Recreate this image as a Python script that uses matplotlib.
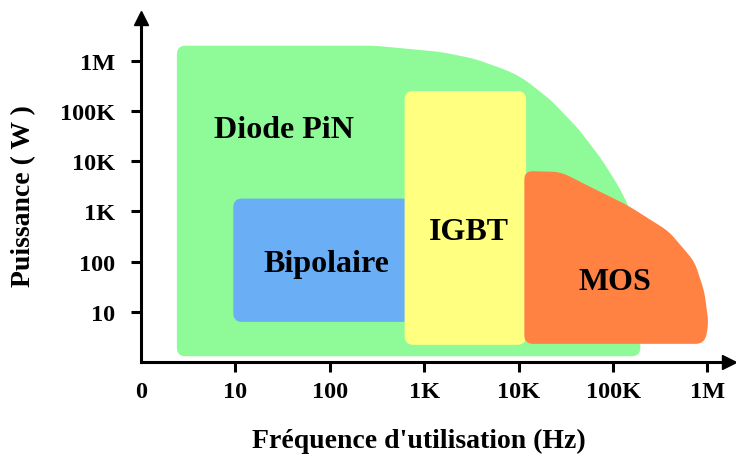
import matplotlib
matplotlib.use('Agg')
import matplotlib.pyplot as plt
from matplotlib.ticker import NullLocator
import numpy as np

# axis ticks
freq_ticks = [1, 10, 100, 1e3, 1e4, 1e5, 1e6]
freq_labels = ['0', '10', '100', '1K', '10K', '100K', '1M']
power_ticks = [10, 100, 1e3, 1e4, 1e5, 1e6]
power_labels = ['10', '100', '1K', '10K', '100K', '1M']

# outline of each domain, frequency (Hz) / power (W)
pin_freq = [2.4, 2.4, 300, 1500, 3400, 7800, 11500, 22300, 43000, 75500,
            114000, 146000, 177000, 195000, 195000, 195000]
pin_power = [1.3, 2e6, 2e6, 1.5e6, 1.1e6, 6.3e5, 4.3e5, 1.6e5, 4.4e4, 1.1e4,
             3200, 1300, 280, 45, 4.5, 1.3]

bip_freq = [9.5, 9.5, 730, 730]
bip_power = [6.3, 1800, 1800, 6.3]

igbt_freq = [620, 620, 12000, 12000]
igbt_power = [2.2, 2.5e5, 2.5e5, 2.2]

mos_freq = [11500, 11500, 28000, 55000, 145000, 390000, 730000, 930000, 1.03e6, 9.3e5]
mos_power = [2.3, 6400, 6100, 3200, 1300, 400, 100, 25, 5.7, 2.3]

region_names = ['Diode PiN', 'Bipolaire', 'IGBT', 'MOS']
region_colors = ['#8ffa98', '#6aaef6', '#ffff80', '#ff8242']
label_freq = [33, 92, 3000, 1.06e5]
label_power = [4.3e4, 90, 400, 40]


def rounded(ax, xs, ys, r=9, n=10):
    # round the corners of an outline, working in pixels
    pts = ax.transData.transform(np.column_stack([xs, ys]))
    t = np.linspace(0, 1, n)[:, None]
    out = []
    for i in range(len(pts)):
        v = pts[i]
        a = pts[i - 1]
        b = pts[(i + 1) % len(pts)]
        da, db = a - v, b - v
        la, lb = np.hypot(*da), np.hypot(*db)
        p1 = v + da / la * min(r, la / 2)
        p2 = v + db / lb * min(r, lb / 2)
        out.append((1 - t) ** 2 * p1 + 2 * (1 - t) * t * v + t ** 2 * p2)
    out = ax.transData.inverted().transform(np.vstack(out))
    return out[:, 0], out[:, 1]


font = 'Liberation Serif'
fig = plt.figure(figsize=(7.36, 4.56), dpi=100)
ax = fig.add_axes([141 / 736, 93 / 456, 588 / 736, 344 / 456])
ax.set_xscale('log')
ax.set_yscale('log')
ax.set_xlim(1, 10 ** (588 / 94.4))
ax.set_ylim(1, 10 ** (344 / 50.2))

outlines = [(pin_freq, pin_power), (bip_freq, bip_power),
            (igbt_freq, igbt_power), (mos_freq, mos_power)]
for (fx, py), col in zip(outlines, region_colors):
    x, y = rounded(ax, fx, py)
    ax.fill(x, y, color=col, lw=0, zorder=1)

for name, fx, py in zip(region_names, label_freq, label_power):
    ax.text(fx, py, name, ha='center', va='center', fontsize=23,
            fontweight='bold', family=font, zorder=3)

for side in ['top', 'right']:
    ax.spines[side].set_visible(False)
for side in ['left', 'bottom']:
    ax.spines[side].set_linewidth(2.2)

ax.set_xticks(freq_ticks)
ax.set_xticklabels(freq_labels)
ax.set_yticks(power_ticks)
ax.set_yticklabels(power_labels)
ax.xaxis.set_minor_locator(NullLocator())
ax.yaxis.set_minor_locator(NullLocator())
ax.tick_params(axis='both', direction='out', length=7.5, width=2.2)
ax.tick_params(axis='x', pad=6)
ax.tick_params(axis='y', pad=11)
ax.xaxis.get_major_ticks()[0].tick1line.set_visible(False)
for lab in ax.get_xticklabels() + ax.get_yticklabels():
    lab.set_fontfamily(font)
    lab.set_fontweight('bold')
    lab.set_fontsize(17.5)

# arrow heads
ax.plot(1, 1, '>', color='k', ms=9.5, transform=ax.get_yaxis_transform(), clip_on=False)
ax.plot(1, 1, '^', color='k', ms=9.5, transform=ax.get_xaxis_transform(), clip_on=False)

fig.text(419 / 736, 1 - 441 / 456, "Fréquence d'utilisation (Hz)", ha='center',
         va='center', fontsize=20, fontweight='bold', family=font)
fig.text(24 / 736, 1 - 196 / 456, 'Puissance ( W )', ha='center', va='center',
         rotation=90, fontsize=20, fontweight='bold', family=font)

fig.savefig('out.png', dpi=100)
